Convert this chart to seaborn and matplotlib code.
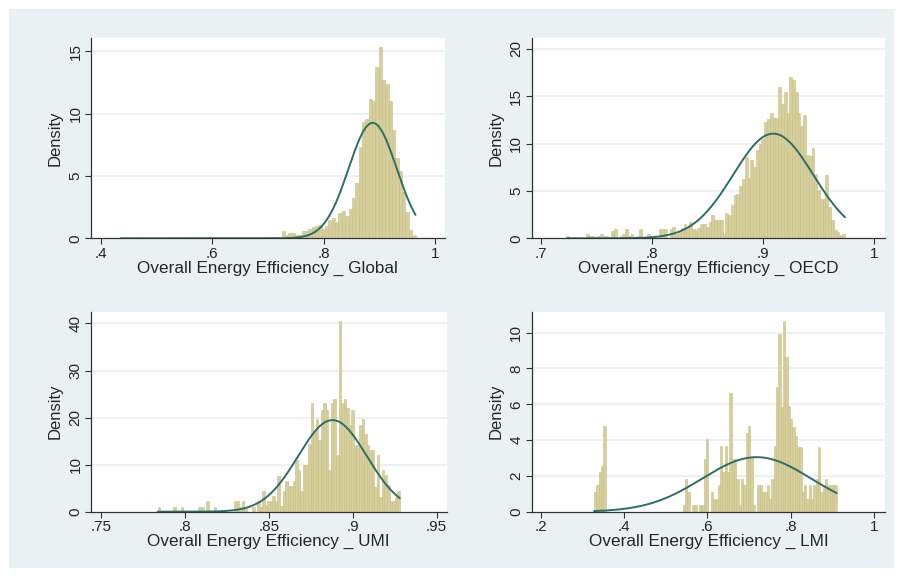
import numpy as np
import pandas as pd
import matplotlib.pyplot as plt
import seaborn as sns
from matplotlib.patches import Rectangle

# ---- data ----
# each histogram: (min, max) of the variable, bar heights (density) per bin
global_range = (0.4355, 0.965)
global_heights = [0.0] * 43 + [
    0.1, 0.05, 0.1, 0.1, 0.05, 0.55, 0.25, 0.45, 0.45, 0.27,
    0.27, 0.6, 0.58, 0.75, 0.9, 1.0, 1.1, 0.75, 1.0, 1.45,
    1.65, 1.3, 2.0, 2.2, 1.8, 2.35, 3.2, 4.4, 7.3, 9.3,
    9.6, 11.2, 11.0, 13.7, 15.3, 12.7, 12.4, 11.0, 8.7, 6.4,
    5.4, 3.7, 2.1, 0.65, 0.25]
global_mean, global_sd = 0.888, 0.0431

oecd_range = (0.7234, 0.974)
oecd_heights = [
    0.25, 0, 0, 0, 0, 0, 0, 0.45, 0.25, 0.25,
    0, 0.25, 0.45, 0.25, 0.25, 0, 0.77, 0.95, 0, 0.25,
    0.45, 0.95, 0.25, 0.45, 0, 0.25, 0.95, 0, 0, 0.45,
    0.25, 0, 0, 0.95, 0.95, 0.95, 0, 0.95, 1.15, 0.45,
    0.7, 1.05, 1.5, 1.22, 1.68, 0.95, 0.88, 1.05, 1.5, 1.5,
    1.22, 1.68, 2.45, 1.93, 1.93, 1.93, 0.45, 2.7, 2.45, 3.5,
    4.56, 4.7, 5.5, 6.3, 8.6, 6.4, 8.25, 7.5, 9.3, 10.0,
    10.5, 12.3, 12.6, 13.2, 12.7, 12.7, 16.0, 14.2, 15.4, 13.2,
    17.0, 16.7, 15.4, 13.2, 11.9, 13.0, 8.8, 8.7, 9.5, 6.8,
    5.1, 4.2, 4.2, 6.7, 3.3, 1.93, 0.88, 0.7, 0.35, 0.5]
oecd_mean, oecd_sd = 0.9094, 0.0361

umi_range = (0.7837, 0.928)
umi_heights = [
    1.0, 0, 0, 0, 0, 0, 1.0, 0, 0, 1.0,
    0, 0, 0, 0, 0, 0, 0.92, 0.92, 0, 2.26,
    0, 0, 0.92, 0, 0, 0, 0, 0, 0, 0,
    2.26, 2.26, 0.92, 2.26, 0.92, 0, 0, 0.92, 0, 2.26,
    0.92, 4.4, 1.4, 2.26, 2.26, 3.4, 2.26, 7.6, 1.2, 4.4,
    6.5, 5.4, 5.4, 6.5, 11.0, 8.85, 4.4, 9.9, 9.9, 14.4,
    23.0, 17.0, 19.8, 15.2, 21.7, 23.0, 21.7, 8.8, 23.0, 24.0,
    12.0, 40.5, 23.0, 24.0, 22.0, 18.5, 21.7, 14.2, 14.2, 18.5,
    19.6, 16.6, 14.2, 13.1, 13.1, 5.3, 12.0, 3.2, 8.85, 7.8,
    5.7, 2.3, 2.3, 3.2, 4.4]
umi_mean, umi_sd = 0.8879, 0.0205

lmi_range = (0.328, 0.9105)
lmi_heights = [1.08, 1.49, 2.2, 2.55, 4.79] + [0.0] * 33 + [
    0.37, 1.8, 1.08, 0, 0.37, 0.37, 0, 0.37, 0.37, 2.92,
    4.06, 0, 1.08, 0.7, 0.7, 1.49, 3.67, 2.2, 3.67, 2.2,
    6.65, 2.92, 2.92, 1.8, 0.37, 1.8, 1.49, 4.38, 4.79, 2.98,
    0.37, 0, 1.49, 1.49, 1.08, 1.08, 1.49, 0.7, 1.8, 3.67,
    6.98, 9.92, 5.87, 10.65, 8.66, 5.9, 5.16, 4.75, 4.2, 3.63,
    3.63, 1.08, 1.49, 0.7, 1.49, 0.7, 1.49, 1.8, 3.63, 1.08,
    1.49, 1.8, 1.49, 1.49, 1.49, 1.49]
lmi_mean, lmi_sd = 0.7185, 0.131

titles = ["Overall Energy Efficiency _ Global", "Overall Energy Efficiency _ OECD",
          "Overall Energy Efficiency _ UMI", "Overall Energy Efficiency _ LMI"]
xticks = [[0.4, 0.6, 0.8, 1.0], [0.7, 0.8, 0.9, 1.0],
          [0.75, 0.8, 0.85, 0.9, 0.95], [0.2, 0.4, 0.6, 0.8, 1.0]]
xticklabels = [[".4", ".6", ".8", "1"], [".7", ".8", ".9", "1"],
               [".75", ".8", ".85", ".9", ".95"], [".2", ".4", ".6", ".8", "1"]]
yticks = [[0, 5, 10, 15], [0, 5, 10, 15, 20], [0, 10, 20, 30, 40], [0, 2, 4, 6, 8, 10]]
xlims = [(0.3814, 1.018), (0.6919, 1.01), (0.7438, 0.956), (0.1784, 1.0265)]
ylims = [(0, 16.1), (0, 21.2), (0, 42.5), (0, 11.17)]

panels = [
    (global_range, global_heights, global_mean, global_sd),
    (oecd_range, oecd_heights, oecd_mean, oecd_sd),
    (umi_range, umi_heights, umi_mean, umi_sd),
    (lmi_range, lmi_heights, lmi_mean, lmi_sd),
]

# ---- style ----
sns.set_style("white")
plt.rcParams['font.family'] = ['Liberation Sans', 'DejaVu Sans']

bg = '#eaf1f3'
bar_fill = '#d6cf9b'
bar_edge = '#c8c085'
curve_col = '#2b6f66'

fig = plt.figure(figsize=(9.03, 5.77), dpi=100, facecolor='white')
# light graph region inside a thin white border (kept behind the axes)
fig.patches.append(Rectangle((9 / 903, 9 / 577), 885 / 903, 559 / 577,
                             transform=fig.transFigure, facecolor=bg,
                             edgecolor='none', zorder=-10))

# axes boxes in figure fractions [left, bottom, width, height]
boxes = [
    [0.1005, 0.587, 0.3923, 0.348],
    [0.5888, 0.587, 0.3912, 0.348],
    [0.1005, 0.1132, 0.3942, 0.3466],
    [0.5888, 0.1132, 0.3912, 0.3466],
]

for i, (rng, heights, mu, sd) in enumerate(panels):
    ax = fig.add_axes(boxes[i])
    ax.set_facecolor('white')
    edges = np.linspace(rng[0], rng[1], len(heights) + 1)
    df = pd.DataFrame({'x': (edges[:-1] + edges[1:]) / 2, 'w': heights})
    sns.histplot(data=df, x='x', weights='w', bins=edges.tolist(), ax=ax,
                 color=bar_fill, edgecolor=bar_edge, linewidth=0.4, alpha=1)

    xs = np.linspace(rng[0], rng[1], 300)
    ys = np.exp(-0.5 * ((xs - mu) / sd) ** 2) / (sd * np.sqrt(2 * np.pi))
    sns.lineplot(x=xs, y=ys, ax=ax, color=curve_col, linewidth=1.4)

    ax.set_xlim(xlims[i])
    ax.set_ylim(ylims[i])
    ax.set_xticks(xticks[i])
    ax.set_xticklabels(xticklabels[i], fontsize=11)
    ax.set_yticks(yticks[i])
    ax.set_yticklabels([str(v) for v in yticks[i]], fontsize=11,
                       rotation=90, va='center')
    for y in yticks[i][1:]:
        ax.axhline(y, color=bg, linewidth=1.3, zorder=0)
    ax.set_xlabel(titles[i], fontsize=12.3, labelpad=0)
    ax.set_ylabel("Density", fontsize=12, labelpad=4)
    ax.tick_params(axis='both', direction='out', length=4, width=0.8,
                   color='#333333', pad=2, bottom=True, left=True)
    for s in ['top', 'right']:
        ax.spines[s].set_visible(False)
    for s in ['left', 'bottom']:
        ax.spines[s].set_color('#333333')
        ax.spines[s].set_linewidth(0.9)

fig.savefig("out.png", dpi=100, facecolor='white')
